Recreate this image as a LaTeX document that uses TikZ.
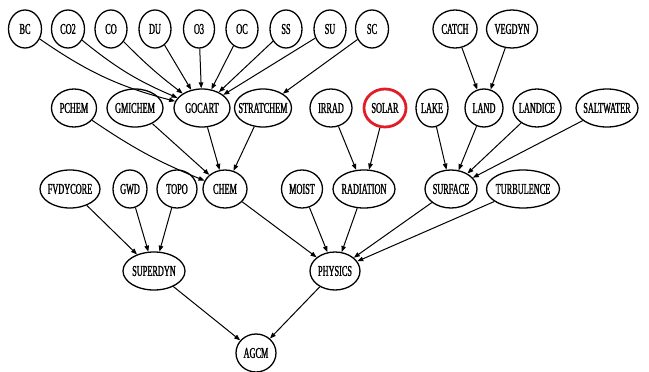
\documentclass[tikz,border=0pt]{standalone}
\usepackage{fontspec}
\newfontfamily\gvfont[FakeStretch=0.55,FakeBold=1.2]{Liberation Serif}
\usetikzlibrary{shapes.geometric,arrows.meta}
\definecolor{solarred}{RGB}{225,30,40}
\begin{document}
\begin{tikzpicture}[x=1pt,y=-1pt,
  nd/.style={ellipse,draw,line width=1.3pt,inner ysep=0pt,inner xsep=-30pt,
    minimum height=38pt,minimum width=#1,
    font=\gvfont\fontsize{15}{15}\selectfont},
  nd/.default=33pt,
  hl/.style={draw=solarred,line width=2.8pt},
  e/.style={-{Triangle[length=6pt,width=4.5pt]},line width=1pt}]
\useasboundingbox (0,0) rectangle (649,372);
% row 1
\node[nd] (BC)  at (25,29) {BC};
\node[nd] (CO2) at (68,29) {CO2};
\node[nd=32pt] (CO) at (111,29) {CO};
\node[nd=32pt] (DU) at (155,29) {DU};
\node[nd=31pt] (O3) at (199,29) {O3};
\node[nd=32pt] (OC) at (242,29) {OC};
\node[nd=32pt] (SS) at (286,29) {SS};
\node[nd=32pt] (SU) at (330,29) {SU};
\node[nd] (SC) at (372,29) {SC};
\node[nd=44pt] (CATCH) at (455,29) {CATCH};
\node[nd=51pt] (VEGDYN) at (512,29) {VEGDYN};
% row 2
\node[nd=45pt] (PCHEM) at (74,108) {PCHEM};
\node[nd=56pt] (GMICHEM) at (135,108) {GMICHEM};
\node[nd=56pt] (GOCART) at (202,108) {GOCART};
\node[nd=57pt] (STRATCHEM) at (263,108) {STRATCHEM};
\node[nd=42pt] (IRRAD) at (331,108) {IRRAD};
\node[nd=42pt,hl] (SOLAR) at (385,108) {SOLAR};
\node[nd=32pt] (LAKE) at (432,108) {LAKE};
\node[nd=38pt] (LAND) at (484,108) {LAND};
\node[nd=48pt] (LANDICE) at (537,108) {LANDICE};
\node[nd=62pt] (SALTWATER) at (607,108) {SALTWATER};
% row 3
\node[nd=60pt] (FVDYCORE) at (70,189) {FVDYCORE};
\node[nd=34pt] (GWD) at (130,189) {GWD};
\node[nd=40pt] (TOPO) at (177,189) {TOPO};
\node[nd=44pt] (CHEM) at (225,189) {CHEM};
\node[nd=41pt] (MOIST) at (302,189) {MOIST};
\node[nd=62pt] (RADIATION) at (364,189) {RADIATION};
\node[nd=52pt] (SURFACE) at (451,189) {SURFACE};
\node[nd=73pt] (TURBULENCE) at (523,189) {TURBULENCE};
% row 4
\node[nd=62pt] (SUPERDYN) at (154,271) {SUPERDYN};
\node[nd=50pt] (PHYSICS) at (335,271) {PHYSICS};
% row 5
\node[nd=40pt] (AGCM) at (256,353) {AGCM};
% edges
\draw[e] (BC) to[bend right=10] (GOCART);
\draw[e] (CO2) to[bend right=8] (GOCART);
\draw[e] (CO) to[bend right=4] (GOCART);
\foreach \s in {DU,O3,OC,SS,SU} \draw[e] (\s) -- (GOCART);
\draw[e] (SC) -- (STRATCHEM);
\draw[e] (CATCH) -- (LAND);
\draw[e] (VEGDYN) -- (LAND);
\draw[e] (PCHEM) to[bend right=6] (CHEM);
\draw[e] (GMICHEM) -- (CHEM);
\draw[e] (GOCART) -- (CHEM);
\draw[e] (STRATCHEM) -- (CHEM);
\draw[e] (IRRAD) -- (RADIATION);
\draw[e] (SOLAR) -- (RADIATION);
\draw[e] (LAKE) -- (SURFACE);
\draw[e] (LAND) -- (SURFACE);
\draw[e] (LANDICE) -- (SURFACE);
\draw[e] (SALTWATER) -- (SURFACE);
\draw[e] (FVDYCORE) -- (SUPERDYN);
\draw[e] (GWD) -- (SUPERDYN);
\draw[e] (TOPO) -- (SUPERDYN);
\draw[e] (CHEM) -- (PHYSICS);
\draw[e] (MOIST) -- (PHYSICS);
\draw[e] (RADIATION) -- (PHYSICS);
\draw[e] (SURFACE) -- (PHYSICS);
\draw[e] (TURBULENCE) -- (PHYSICS);
\draw[e] (SUPERDYN) -- (AGCM);
\draw[e] (PHYSICS) -- (AGCM);
\end{tikzpicture}
\end{document}
